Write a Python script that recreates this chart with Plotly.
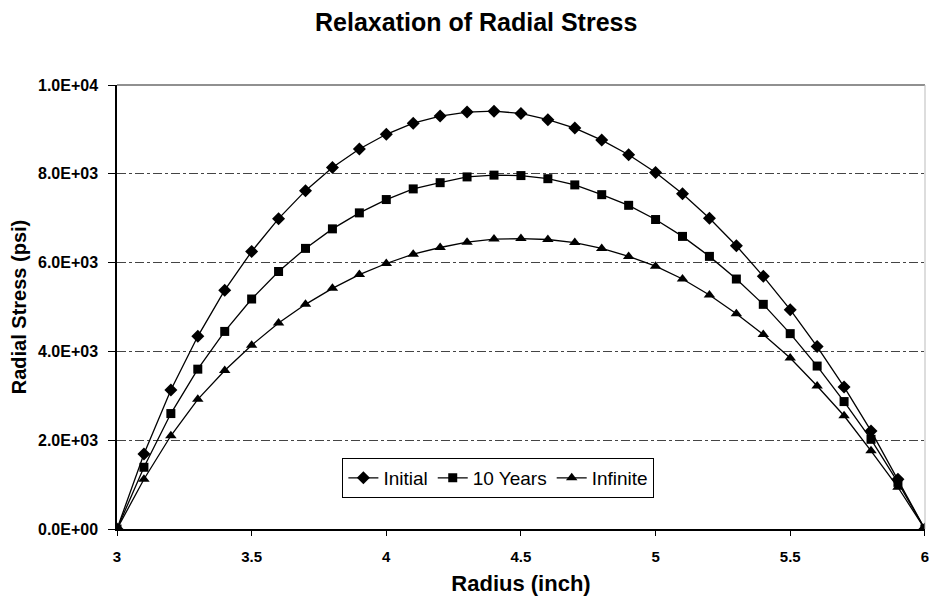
import plotly.graph_objects as go

radius = [3.0, 3.1, 3.2, 3.3, 3.4, 3.5, 3.6, 3.7, 3.8, 3.9, 4.0, 4.1, 4.2, 4.3, 4.4, 4.5,
          4.6, 4.7, 4.8, 4.9, 5.0, 5.1, 5.2, 5.3, 5.4, 5.5, 5.6, 5.7, 5.8, 5.9, 6.0]

initial = [0, 1690, 3130, 4340, 5380, 6250, 6990, 7620, 8140, 8560, 8890, 9140, 9300, 9390, 9410,
           9360, 9220, 9030, 8760, 8430, 8030, 7550, 7000, 6380, 5690, 4940, 4110, 3200, 2210, 1120, 0]

ten_years = [0, 1390, 2600, 3600, 4450, 5180, 5800, 6320, 6760, 7120, 7420, 7660, 7800, 7930, 7970,
             7960, 7890, 7750, 7530, 7290, 6970, 6590, 6140, 5630, 5060, 4400, 3670, 2870, 2020, 1050, 0]

infinite = [0, 1120, 2100, 2920, 3570, 4140, 4640, 5060, 5420, 5730, 5980, 6190, 6340, 6460, 6530,
            6540, 6520, 6450, 6320, 6140, 5920, 5630, 5270, 4850, 4380, 3850, 3220, 2550, 1760, 940, 0]

series_names = ["Initial", "10 Years", "Infinite"]
series_symbols = ["diamond", "square", "triangle-up"]

y_tick_vals = [0, 2000, 4000, 6000, 8000, 10000]
y_tick_text = ["0.0E+00", "2.0E+03", "4.0E+03", "6.0E+03", "8.0E+03", "1.0E+04"]
x_tick_vals = [3, 3.5, 4, 4.5, 5, 5.5, 6]
x_tick_text = ["3", "3.5", "4", "4.5", "5", "5.5", "6"]

FONT = "Liberation Sans, Arial, sans-serif"

fig = go.Figure()
for name, ys, sym, msize in zip(series_names, [initial, ten_years, infinite], series_symbols, [10, 9, 10]):
    fig.add_trace(go.Scatter(
        x=radius, y=ys, name=name, mode="lines+markers",
        line=dict(color="black", width=1.3),
        marker=dict(symbol=sym, size=msize, color="black"),
    ))

# The page body has a default 8px margin, so the figure is sized to fit the window.
fig.update_layout(
    width=929, height=592,
    paper_bgcolor="white", plot_bgcolor="white",
    margin=dict(l=109, r=8, t=77, b=70),
    title=dict(text="<b>Relaxation of Radial Stress</b>", x=0.504, xanchor="center",
               y=0.976, yanchor="middle", font=dict(family=FONT, size=25, color="black")),
    font=dict(family=FONT, color="black"),
    showlegend=True,
    legend=dict(orientation="h", x=0.472, y=0.115, xanchor="center", yanchor="middle",
                bgcolor="white", bordercolor="black", borderwidth=1,
                font=dict(family=FONT, size=19, color="black"),
                itemwidth=30, tracegroupgap=0),
)

fig.update_xaxes(
    range=[3, 6.0005], tickvals=x_tick_vals, ticktext=["<b>%s</b>" % t for t in x_tick_text],
    ticklabeloverflow="allow", ticklabelstandoff=8,
    showgrid=False, zeroline=False,
    showline=True, linecolor="black", linewidth=1.5,
    ticks="outside", ticklen=5, tickcolor="black",
    tickfont=dict(family=FONT, size=15, color="black"),
    title=dict(text="<b>Radius (inch)</b>", font=dict(family=FONT, size=22, color="black"), standoff=12),
)
fig.update_yaxes(
    range=[0, 10000], tickvals=y_tick_vals, ticktext=["<b>%s</b>" % t for t in y_tick_text],
    ticklabelstandoff=7,
    showgrid=True, gridcolor="#444444", gridwidth=1, griddash="dashdot",
    zeroline=False,
    showline=True, linecolor="black", linewidth=1.5,
    ticks="outside", ticklen=7, tickcolor="black",
    tickfont=dict(family=FONT, size=16, color="black"),
    title=dict(text="<b>Radial Stress (psi)</b>", font=dict(family=FONT, size=20, color="black"), standoff=8),
)

# plot-area frame: top edge (1.0E+04 line) and faint right edge
fig.add_shape(type="line", xref="paper", yref="paper", x0=0, x1=1, y0=1, y1=1,
              line=dict(color="#222222", width=1.2))
fig.add_shape(type="line", xref="paper", yref="paper", x0=1, x1=1, y0=0, y1=1,
              line=dict(color="#bbbbbb", width=1))

fig.write_html("out.html", config={"displayModeBar": False})
